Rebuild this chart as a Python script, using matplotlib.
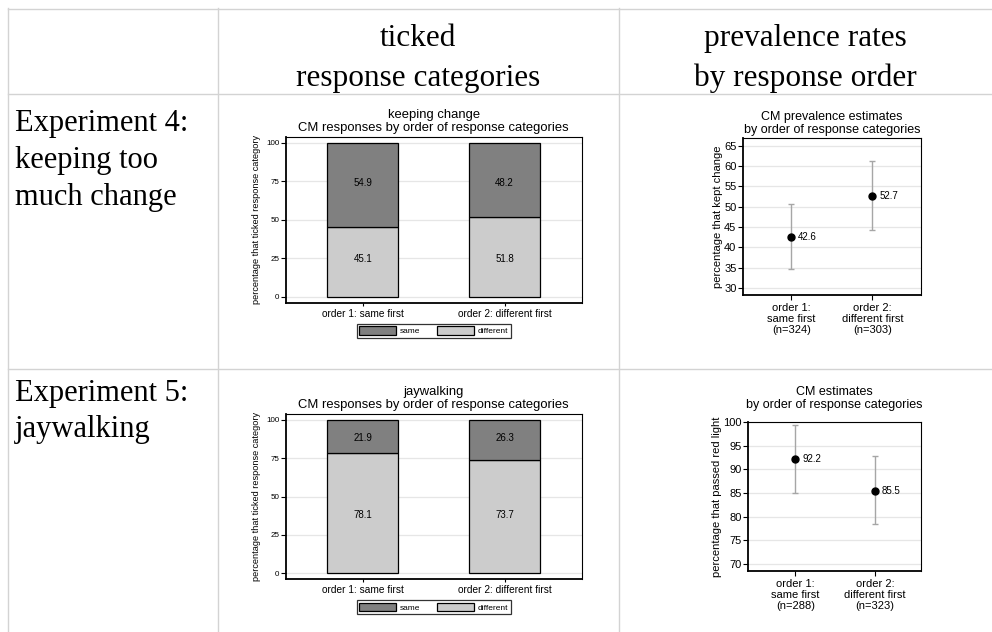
import matplotlib
matplotlib.use('Agg')
import matplotlib.pyplot as plt
from matplotlib.lines import Line2D
from matplotlib.patches import Patch
import numpy as np

W, H = 992, 632

# table text
col_heads = [['ticked', 'response categories'], ['prevalence rates', 'by response order']]
row_heads = [['Experiment 4:', 'keeping too', 'much change'], ['Experiment 5:', 'jaywalking']]

# bar panels: share that ticked each response category
orders = ['order 1: same first', 'order 2: different first']
keep_same = [54.9, 48.2]
keep_diff = [45.1, 51.8]
jay_same = [21.9, 26.3]
jay_diff = [78.1, 73.7]

# dot panels: CM estimates with confidence intervals
keep_xlabels = ['order 1:\nsame first\n(n=324)', 'order 2:\ndifferent first\n(n=303)']
keep_est = [42.6, 52.7]
keep_lo = [34.6, 44.3]
keep_hi = [50.7, 61.2]
jay_xlabels = ['order 1:\nsame first\n(n=288)', 'order 2:\ndifferent first\n(n=323)']
jay_est = [92.2, 85.5]
jay_lo = [85.1, 78.4]
jay_hi = [99.4, 92.8]

SANS = 'Liberation Sans'
SERIF = 'Liberation Serif'
plt.rcParams['font.family'] = SANS
plt.rcParams['axes.unicode_minus'] = False

fig = plt.figure(figsize=(W / 100, H / 100), dpi=100)
fig.patch.set_facecolor('white')


def fx(x):
    return x / W


def fy(y):
    return 1 - y / H


def px_axes(left, top, right, bottom):
    return fig.add_axes([fx(left), fy(bottom), (right - left) / W, (bottom - top) / H])


# table grid
grid_col = '#d3d3d3'
for (x0, y0, x1, y1) in [(8, 8.5, W, 8.5), (8, 94, W, 94), (8, 369, W, 369),
                         (8, 8, 8, H), (218, 8, 218, H), (619, 8, 619, H)]:
    fig.add_artist(Line2D([fx(x0), fx(x1)], [fy(y0), fy(y1)], color=grid_col, lw=1.0,
                          transform=fig.transFigure))

# table headers
for cx, lines in zip([418, 805], col_heads):
    for i, s in enumerate(lines):
        fig.text(fx(cx), fy(46 + 40 * i), s, family=SERIF, fontsize=22.5, ha='center', va='baseline')
for top, lines in zip([131.5, 401], row_heads):
    for i, s in enumerate(lines):
        fig.text(fx(15), fy(top + 36.5 * i), s, family=SERIF, fontsize=22, ha='left', va='baseline')


def style_axes(ax):
    for side in ['left', 'bottom']:
        ax.spines[side].set_linewidth(1.3)
    for side in ['top', 'right']:
        ax.spines[side].set_linewidth(0.8)
    ax.yaxis.grid(True, color='#e6e6e6', lw=0.9, zorder=0)
    ax.set_axisbelow(True)
    ax.tick_params(axis='both', direction='out', width=0.8, colors='black')


def bar_panel(ax, same, diff, title):
    x = np.arange(1, len(orders) + 1)
    same = np.array(same)
    diff = np.array(diff)
    ax.bar(x, diff, width=0.5, color='#cccccc', edgecolor='black', linewidth=0.9, zorder=3)
    ax.bar(x, same, bottom=diff, width=0.5, color='#808080', edgecolor='black', linewidth=0.9, zorder=3)
    # labels sit at the same height across bars (mean of segment middles)
    y_low = np.mean(diff / 2)
    y_high = np.mean(diff + same / 2)
    for xi, d, s in zip(x, diff, same):
        ax.text(xi, y_low, f'{d:.1f}', ha='center', va='center', fontsize=7, zorder=4)
        ax.text(xi, y_high, f'{s:.1f}', ha='center', va='center', fontsize=7, zorder=4)
    ax.set_xlim(0.455, 2.545)
    ax.set_ylim(-3.9, 103.9)
    ax.set_yticks([0, 25, 50, 75, 100])
    ax.set_xticks(x)
    ax.set_xticklabels(orders, fontsize=7.3)
    ax.tick_params(axis='y', labelsize=5.8, length=3.5, pad=1)
    ax.tick_params(axis='x', length=2.5, pad=2)
    ax.set_ylabel('percentage that ticked response category', fontsize=6.6, labelpad=4)
    ax.set_title(title + '\nCM responses by order of response categories', fontsize=9.4,
                 linespacing=1.15, pad=4)
    style_axes(ax)
    handles = [Patch(facecolor='#808080', edgecolor='black', lw=0.9, label='same'),
               Patch(facecolor='#cccccc', edgecolor='black', lw=0.9, label='different')]
    leg = ax.legend(handles=handles, loc='upper center', bbox_to_anchor=(0.5, -0.128), ncol=2,
                    fontsize=6, frameon=True, fancybox=False, edgecolor='black',
                    handlelength=4.4, handleheight=1.2, columnspacing=2.0, handletextpad=0.5,
                    borderpad=0.3, borderaxespad=0)
    leg.get_frame().set_linewidth(0.9)


def dot_panel(ax, est, lo, hi, xlabels, ylabel, title, yticks, ylim, xlim, title_pad):
    x = np.arange(1, len(est) + 1)
    est = np.array(est)
    lo = np.array(lo)
    hi = np.array(hi)
    ax.errorbar(x, est, yerr=[est - lo, hi - est], fmt='none', ecolor='#a6a6a6',
                elinewidth=1.0, capsize=2.5, capthick=1.0, zorder=2)
    ax.plot(x, est, 'o', color='black', ms=5, zorder=3)
    for xi, e in zip(x, est):
        ax.annotate(f'{e:.1f}', (xi, e), xytext=(5, 0), textcoords='offset points',
                    ha='left', va='center', fontsize=7)
    ax.set_xlim(*xlim)
    ax.set_ylim(*ylim)
    ax.set_yticks(yticks)
    ax.set_xticks(x)
    ax.set_xticklabels(xlabels, fontsize=8, linespacing=1.12)
    ax.tick_params(axis='y', labelsize=8, length=3.5, pad=1)
    ax.tick_params(axis='x', length=3.5, pad=2)
    ax.set_ylabel(ylabel, fontsize=8, labelpad=1)
    ax.set_title(title, fontsize=9, linespacing=1.1, pad=title_pad)
    style_axes(ax)


ax1 = px_axes(285.7, 137, 581.7, 302.7)
bar_panel(ax1, keep_same, keep_diff, 'keeping change')

ax2 = px_axes(285.7, 414, 581.7, 579)
bar_panel(ax2, jay_same, jay_diff, 'jaywalking')

ax3 = px_axes(742.7, 138.3, 921, 295)
dot_panel(ax3, keep_est, keep_lo, keep_hi, keep_xlabels, 'percentage that kept change',
          'CM prevalence estimates\nby order of response categories',
          np.arange(30, 66, 5), (28.3, 66.8), (0.4, 2.6), 4)

ax4 = px_axes(748.3, 421.7, 921, 571)
dot_panel(ax4, jay_est, jay_lo, jay_hi, jay_xlabels, 'percentage that passed red light',
          'CM estimates\nby order of response categories',
          np.arange(70, 101, 5), (68.5, 100.1), (0.41, 2.58), 10)

fig.savefig('out.png', dpi=100, facecolor='white')
